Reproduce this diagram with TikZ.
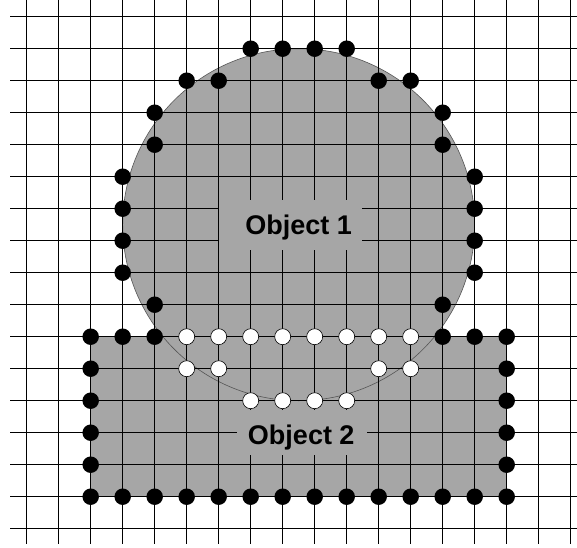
\documentclass[tikz,border=0pt]{standalone}
\usepackage{fontspec}
\newfontfamily\arialfont{Liberation Sans}
\definecolor{objgray}{RGB}{166,166,166}
\definecolor{rimgray}{RGB}{85,85,85}
\begin{document}
\begin{tikzpicture}[x=32pt, y=-32pt,
  gridline/.style={black, line width=0.8pt},
  obj/.style={fill=objgray},
  rim/.style={draw=rimgray, line width=0.6pt},
  edgepx/.style={circle, fill=black, minimum size=16.5pt, inner sep=0pt},
  holepx/.style={circle, draw=black, line width=0.6pt, fill=white, minimum size=16pt, inner sep=0pt},
  mask/.style={fill=objgray, inner sep=0pt},
  objlabel/.style={font=\arialfont\bfseries\fontsize{27}{31}\selectfont, anchor=base, inner sep=0pt},
]
  \useasboundingbox (-0.834,-0.522) rectangle (17.197,16.572);
  % Objects
  \fill[obj] (2,10) rectangle (15,15);
  \fill[obj] (8.5,6.5) circle (5.5);
  \draw[rim] (8.5,6.5) circle (5.5);
  % Grid
  \foreach \c in {0,...,17} \draw[gridline] (\c,-0.522) -- (\c,16.48);
  \foreach \r in {0,...,16} \draw[gridline] (-0.52,\r) -- (17.197,\r);
  % Labels
  \node[mask, minimum width=143pt, minimum height=50pt] (mask1) at (8.24,6.51) {};
  \node[objlabel] (obj1) at (8.5,6.8) {Object 1};
  \node[mask, minimum width=130pt, minimum height=45pt] (mask2) at (8.59,12.99) {};
  \node[objlabel] (obj2) at (8.58,13.38) {Object 2};
  % Boundary pixels outside the other object
  \foreach \c/\r in {7/1,8/1,9/1,10/1, 5/2,6/2,11/2,12/2, 4/3,13/3, 4/4,13/4,
                     3/5,14/5, 3/6,14/6, 3/7,14/7, 3/8,14/8, 4/9,13/9,
                     2/10,3/10,4/10,13/10,14/10,15/10}
    \node[edgepx] (e-\c-\r) at (\c,\r) {};
  \foreach \r in {11,...,14} {
    \node[edgepx] (e-2-\r) at (2,\r) {};
    \node[edgepx] (e-15-\r) at (15,\r) {};
  }
  \foreach \c in {2,...,15} \node[edgepx] (e-\c-15) at (\c,15) {};
  % Boundary pixels inside the rectangle
  \foreach \c/\r in {5/10,6/10,7/10,8/10,9/10,10/10,11/10,12/10,
                     5/11,6/11,11/11,12/11, 7/12,8/12,9/12,10/12}
    \node[holepx] (h-\c-\r) at (\c,\r) {};
\end{tikzpicture}
\end{document}
